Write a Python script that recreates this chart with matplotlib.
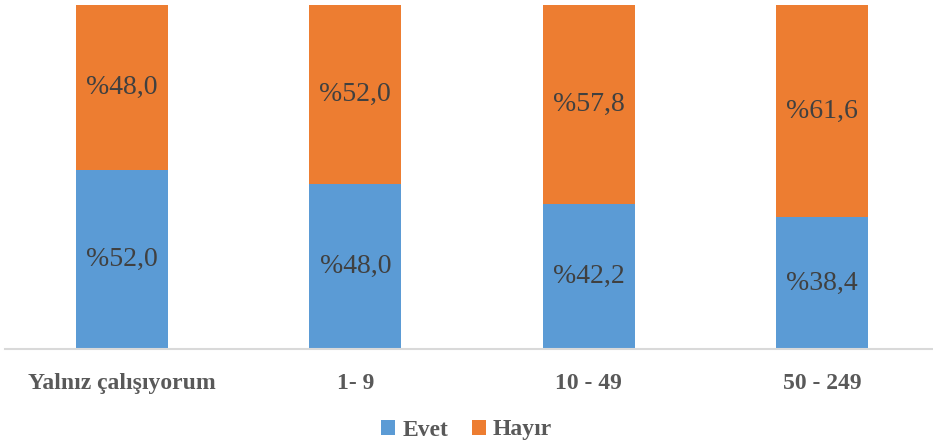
import matplotlib.pyplot as plt
import numpy as np

categories = ['Yalnız çalışıyorum', '1- 9', '10 - 49', '50 - 249']
evet = [52.0, 48.0, 42.2, 38.4]
hayir = [48.0, 52.0, 57.8, 61.6]
series_names = ['Evet', 'Hayır']
colors = ['#5B9BD5', '#ED7D31']

plt.rcParams['font.family'] = ['Liberation Serif', 'DejaVu Serif']

fig = plt.figure(figsize=(9.33, 4.46), dpi=100)
ax = fig.add_axes([5 / 933, 1 - 349 / 446, 928 / 933, 344 / 446])

x = np.arange(len(categories))
width = 0.395
b1 = ax.bar(x, evet, width, color=colors[0], label=series_names[0])
b2 = ax.bar(x, hayir, width, bottom=evet, color=colors[1], label=series_names[1])

for bars, vals, base in [(b1, evet, [0] * 4), (b2, hayir, evet)]:
    for xi, v, b in zip(x, vals, base):
        ax.text(xi, b + v / 2, '%' + f'{v:.1f}'.replace('.', ','),
                ha='center', va='center', fontsize=20, color='#404040')

ax.set_xlim(-0.5, -0.5 + 928 / 233.5)
ax.set_ylim(0, 100)
ax.set_xticks(x)
ax.set_xticklabels(categories, fontsize=17, fontweight='bold', color='#595959')
ax.tick_params(axis='x', length=0, pad=17)
ax.set_yticks([])
for s in ['top', 'left', 'right']:
    ax.spines[s].set_visible(False)
ax.spines['bottom'].set_color('#D9D9D9')
ax.spines['bottom'].set_linewidth(1.5)

leg = fig.legend(loc='center', bbox_to_anchor=(0.5, 1 - 430 / 446), ncol=2,
                 frameon=False, handlelength=0.6, handleheight=0.6,
                 handletextpad=0.3, columnspacing=1.0,
                 prop={'size': 17, 'weight': 'bold'})
for t in leg.get_texts():
    t.set_color('#595959')

fig.savefig('out.png', dpi=100)
